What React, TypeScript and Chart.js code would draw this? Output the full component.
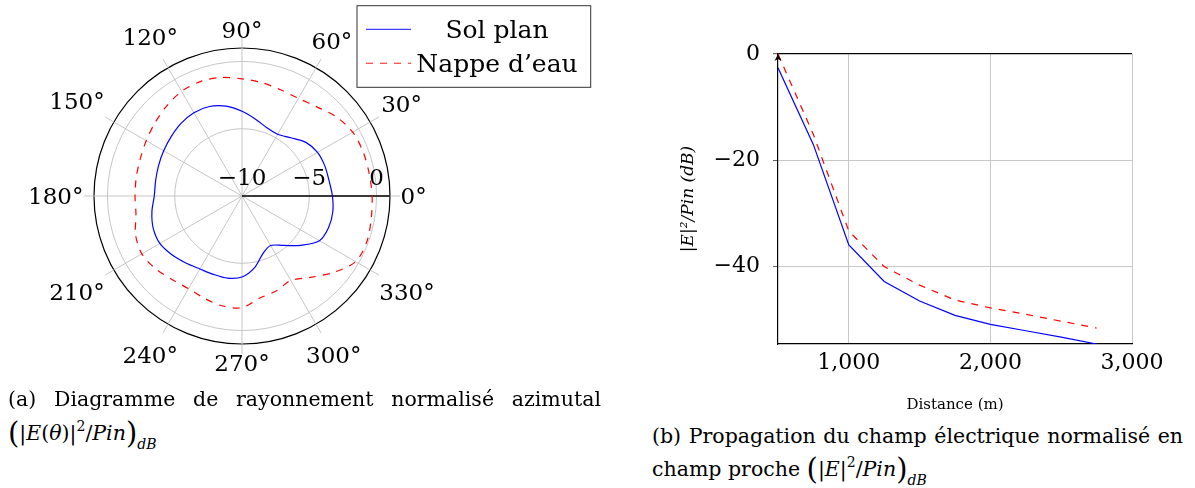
import React, { useEffect, useRef } from 'react';
import { Chart, registerables } from 'chart.js';

Chart.register(...registerables);

const FONT = "'DejaVu Serif', 'Liberation Serif', serif";

// ---------- (a) polar radiation pattern (dB, normalised) ----------
const polarAngles = [0, 10, 20, 30, 40, 50, 60, 70, 80, 90, 100, 110, 120, 130, 140, 150, 160, 170,
  180, 190, 200, 210, 220, 230, 240, 250, 260, 270, 280, 290, 300, 310, 320, 330, 340, 350];
const polarSolPlan = [-3.28, -3.43, -3.45, -3.52, -3.8, -4.35, -4.7, -4.6, -4.2, -3.7, -3.22, -2.92,
  -2.85, -2.95, -3.13, -3.28, -3.4, -3.48, -3.48, -3.2, -2.98, -2.95, -3.2, -3.5, -3.74, -3.8,
  -3.8, -3.98, -4.6, -5.45, -5.75, -5.2, -4.3, -3.35, -3.15, -3.15];
const polarNappe = [-0.33, -0.4, -0.42, -0.5, -0.85, -1.35, -1.62, -1.6, -1.45, -1.29, -1.05, -0.95,
  -1.02, -1.28, -1.55, -1.78, -1.95, -2.02, -2.05, -2.0, -1.58, -1.4, -1.6, -1.9, -2.05, -1.9,
  -1.7, -1.7, -2.3, -2.5, -2.75, -2.1, -1.15, -0.25, -0.12, -0.25];
const polarAngleTicks = [0, 30, 60, 90, 120, 150, 180, 210, 240, 270, 300, 330];
const polarRadialTicks = [-10, -5, 0];
const polarRadialMin = -10;
const polarRadialMax = 1;

// ---------- (b) near-field propagation ----------
const distances = [500, 750, 1000, 1250, 1500, 1750, 2000, 2250, 2500, 2750];
const distSolPlan = [-2.6, -17.1, -36.0, -42.9, -46.6, -49.3, -51.0, -52.2, -53.4, -54.7];
const distNappe = [0, -15.2, -33.4, -40.1, -43.6, -46.4, -47.9, -49.1, -50.4, -51.7];
const distanceTicks = [1000, 2000, 3000];
const levelTicks = [-40, -20, 0];
const distanceRange = [500, 3000];
const levelRange = [-54.7, 0];

const seriesNames = ['Sol plan', 'Nappe d’eau'];
const seriesColors = ['#0000ff', '#ff0000'];
const seriesDash: number[][] = [[], [7, 7]];

const fmtNum = (v: number) => (v < 0 ? '\u2212' + Math.abs(v) : String(v));

// order for a counter-clockwise polar plot starting at 3 o'clock
const polarOrder = polarAngles.map((_, i) => (polarAngles.length - i) % polarAngles.length);

const polarDecor = {
  id: 'polarDecor',
  beforeDatasetsDraw(chart: any) {
    const s = chart.scales.r;
    const ctx = chart.ctx;
    const end = s.getPointPositionForValue(0, polarRadialMax);
    ctx.save();
    ctx.strokeStyle = '#000';
    ctx.lineWidth = 1.3;
    ctx.beginPath();
    ctx.moveTo(s.xCenter, s.yCenter);
    ctx.lineTo(end.x, end.y);
    ctx.stroke();
    ctx.restore();
  },
  afterDraw(chart: any) {
    const s = chart.scales.r;
    const ctx = chart.ctx;
    ctx.save();
    ctx.fillStyle = '#000';
    ctx.font = `23px ${FONT}`;
    ctx.textAlign = 'center';
    ctx.textBaseline = 'alphabetic';
    // radial tick labels along the 0° axis
    polarRadialTicks.forEach((v) => {
      const p = s.getPointPositionForValue(0, v);
      ctx.fillText(fmtNum(v), p.x, s.yCenter - 11);
    });
    // angle labels
    const capH = 23 * 0.73;
    const labels = chart.data.labels as string[];
    labels.forEach((lab, i) => {
      if (!lab) return;
      const pos = s.getPointPosition(i, s.drawingArea);
      const dx = pos.x - s.xCenter;
      const dy = pos.y - s.yCenter;
      const len = Math.hypot(dx, dy);
      const ux = dx / len;
      const uy = dy / len;
      const w = ctx.measureText(lab).width;
      const extra = 4.5 * Math.abs(2 * ux * uy);
      const d = (w / 2) * Math.abs(ux) + (capH / 2) * Math.abs(uy) + extra + 0.5;
      ctx.fillText(lab, pos.x + ux * d, pos.y + uy * d + capH / 2);
    });
    // legend
    const lx = 357, ly = 5.7, lw = 233.7, lh = 81.6;
    ctx.strokeStyle = '#333';
    ctx.lineWidth = 1;
    ctx.strokeRect(lx, ly, lw, lh);
    ctx.font = `25px ${FONT}`;
    chart.data.datasets.forEach((ds: any, i: number) => {
      const ry = ly + 23.6 + i * 34;
      ctx.save();
      ctx.strokeStyle = ds.borderColor;
      ctx.globalAlpha = 0.75;
      ctx.lineWidth = 1.2;
      ctx.setLineDash(ds.borderDash || []);
      ctx.beginPath();
      ctx.moveTo(lx + 9, ry);
      ctx.lineTo(lx + 54, ry);
      ctx.stroke();
      ctx.restore();
      ctx.fillStyle = '#000';
      ctx.textAlign = 'center';
      ctx.fillText(ds.label, lx + 140, ry + 8.5);
    });
    ctx.restore();
  },
};

const axisArrow = {
  id: 'axisArrow',
  afterDraw(chart: any) {
    const { left, top } = chart.chartArea;
    const ctx = chart.ctx;
    ctx.save();
    ctx.fillStyle = '#000';
    ctx.beginPath();
    ctx.moveTo(left, top);
    ctx.lineTo(left - 3.5, top + 7);
    ctx.lineTo(left, top + 5);
    ctx.lineTo(left + 3.5, top + 7);
    ctx.closePath();
    ctx.fill();
    ctx.restore();
  },
};

function PolarChart() {
  const ref = useRef<HTMLCanvasElement>(null);
  useEffect(() => {
    const labels = polarOrder.map((k) =>
      polarAngleTicks.includes(polarAngles[k]) ? `${polarAngles[k]}°` : ''
    );
    const chart = new Chart(ref.current as HTMLCanvasElement, {
      type: 'radar',
      data: {
        labels,
        datasets: [
          {
            label: seriesNames[0],
            data: polarOrder.map((k) => polarSolPlan[k]),
            borderColor: seriesColors[0],
            borderDash: seriesDash[0],
            borderWidth: 1.2,
            pointRadius: 0,
            fill: false,
            tension: 0.3,
          },
          {
            label: seriesNames[1],
            data: polarOrder.map((k) => polarNappe[k]),
            borderColor: seriesColors[1],
            borderDash: seriesDash[1],
            borderWidth: 1.2,
            pointRadius: 0,
            fill: false,
            tension: 0.3,
          },
        ],
      },
      options: {
        animation: false,
        responsive: false,
        layout: { padding: { left: 84, top: 38, right: 200, bottom: 41 } },
        plugins: { legend: { display: false }, tooltip: { enabled: false } },
        scales: {
          r: {
            min: polarRadialMin,
            max: polarRadialMax + 0.743,
            bounds: 'data',
            startAngle: 90,
            afterBuildTicks: (axis: any) => {
              axis.ticks = [...polarRadialTicks, polarRadialMax].map((v) => ({ value: v }));
            },
            ticks: { display: false },
            pointLabels: { display: false },
            grid: {
              circular: true,
              color: (c: any) => (c.tick && c.tick.value === polarRadialMax ? '#000' : '#bfbfbf'),
              lineWidth: (c: any) => (c.tick && c.tick.value === polarRadialMax ? 1.2 : 0.9),
            },
            angleLines: {
              color: '#bfbfbf',
              lineWidth: (c: any) => (c.label ? 0.9 : 0),
            },
          } as any,
        },
      } as any,
      plugins: [polarDecor],
    });
    return () => chart.destroy();
  }, []);
  return (
    <canvas
      ref={ref}
      width={600}
      height={395}
      style={{ position: 'absolute', left: 0, top: 0, width: 600, height: 395 }}
    />
  );
}

function DistanceChart() {
  const ref = useRef<HTMLCanvasElement>(null);
  useEffect(() => {
    const chart = new Chart(ref.current as HTMLCanvasElement, {
      type: 'line',
      data: {
        datasets: [
          {
            label: seriesNames[0],
            data: distances.map((d, i) => ({ x: d, y: distSolPlan[i] })),
            borderColor: seriesColors[0],
            borderDash: seriesDash[0],
            borderWidth: 1.2,
            pointRadius: 0,
            tension: 0,
          },
          {
            label: seriesNames[1],
            data: distances.map((d, i) => ({ x: d, y: distNappe[i] })),
            borderColor: seriesColors[1],
            borderDash: seriesDash[1],
            borderWidth: 1.2,
            pointRadius: 0,
            tension: 0,
          },
        ],
      },
      options: {
        animation: false,
        responsive: false,
        layout: { padding: { left: 0, top: 54, right: 63, bottom: 0 } },
        plugins: { legend: { display: false }, tooltip: { enabled: false } },
        scales: {
          x: {
            type: 'linear',
            min: distanceRange[0],
            max: distanceRange[1],
            bounds: 'data',
            afterBuildTicks: (axis: any) => {
              axis.ticks = distanceTicks.map((v) => ({ value: v }));
            },
            afterFit: (s: any) => {
              s.height = 76;
            },
            ticks: {
              color: '#000',
              font: { family: FONT, size: 22 },
              padding: 6,
              maxRotation: 0,
              callback: (v: any) => Number(v).toLocaleString('en-US'),
            },
            grid: { color: '#c8c8c8', lineWidth: 1, drawTicks: false },
            border: { color: '#000', width: 1.2 },
            title: {
              display: true,
              text: 'Distance (m)',
              color: '#000',
              font: { family: FONT, size: 15 },
              padding: { top: 0, bottom: 6 },
            },
          },
          y: {
            type: 'linear',
            min: levelRange[0],
            max: levelRange[1],
            bounds: 'data',
            afterBuildTicks: (axis: any) => {
              axis.ticks = levelTicks.map((v) => ({ value: v }));
            },
            afterFit: (s: any) => {
              s.width = 138;
            },
            ticks: {
              color: '#000',
              font: { family: FONT, size: 22 },
              padding: 13,
              callback: (v: any) => fmtNum(Number(v)),
            },
            grid: {
              color: (c: any) => (c.tick && c.tick.value === levelRange[1] ? '#000' : '#c8c8c8'),
              lineWidth: (c: any) => (c.tick && c.tick.value === levelRange[1] ? 1.2 : 1),
              drawTicks: true,
              tickLength: 5,
              tickColor: '#666',
            },
            border: { color: '#000', width: 1.2 },
            title: {
              display: true,
              text: '|E|²/Pin (dB)',
              color: '#000',
              font: { family: FONT, size: 17, style: 'italic' },
              padding: { top: 38, bottom: 0 },
            },
          },
        },
      } as any,
      plugins: [axisArrow],
    });
    return () => chart.destroy();
  }, []);
  return (
    <canvas
      ref={ref}
      width={555}
      height={420}
      style={{ position: 'absolute', left: 640, top: 0, width: 555, height: 420 }}
    />
  );
}

const capStyle: React.CSSProperties = {
  position: 'absolute',
  fontFamily: FONT,
  fontSize: '20.5px',
  lineHeight: '1',
  color: '#000',
  whiteSpace: 'nowrap',
};
const bigParen: React.CSSProperties = { fontSize: '29px', verticalAlign: '-3px', fontStyle: 'normal' };
const supStyle: React.CSSProperties = { fontSize: '14px', verticalAlign: '9px', lineHeight: '0' };
const subStyle: React.CSSProperties = { fontSize: '14px', verticalAlign: '-9px', lineHeight: '0', fontStyle: 'italic' };

export default function App() {
  return (
    <div style={{ position: 'absolute', left: 0, top: 0, width: 1195, height: 488, overflow: 'hidden', background: '#fff' }}>
      <PolarChart />
      <DistanceChart />
      <div
        style={{
          ...capStyle,
          left: 8,
          top: 389,
          width: 593,
          whiteSpace: 'normal',
          textAlign: 'justify',
          textAlignLast: 'justify',
        }}
      >
        (a) Diagramme de rayonnement normalisé azimutal
      </div>
      <div style={{ ...capStyle, left: 8, top: 419 }}>
        <span style={bigParen}>(</span>|<i>E</i>(<i>θ</i>)|<sup style={supStyle}>2</sup>/<i>Pin</i>
        <span style={bigParen}>)</span>
        <sub style={subStyle}>dB</sub>
      </div>
      <div
        style={{
          ...capStyle,
          left: 652,
          top: 426,
          width: 531,
          whiteSpace: 'normal',
          textAlign: 'justify',
          textAlignLast: 'justify',
        }}
      >
        (b) Propagation du champ électrique normalisé en
      </div>
      <div style={{ ...capStyle, left: 652, top: 455 }}>
        champ proche <span style={bigParen}>(</span>|<i>E</i>|<sup style={supStyle}>2</sup>/<i>Pin</i>
        <span style={bigParen}>)</span>
        <sub style={subStyle}>dB</sub>
      </div>
    </div>
  );
}
